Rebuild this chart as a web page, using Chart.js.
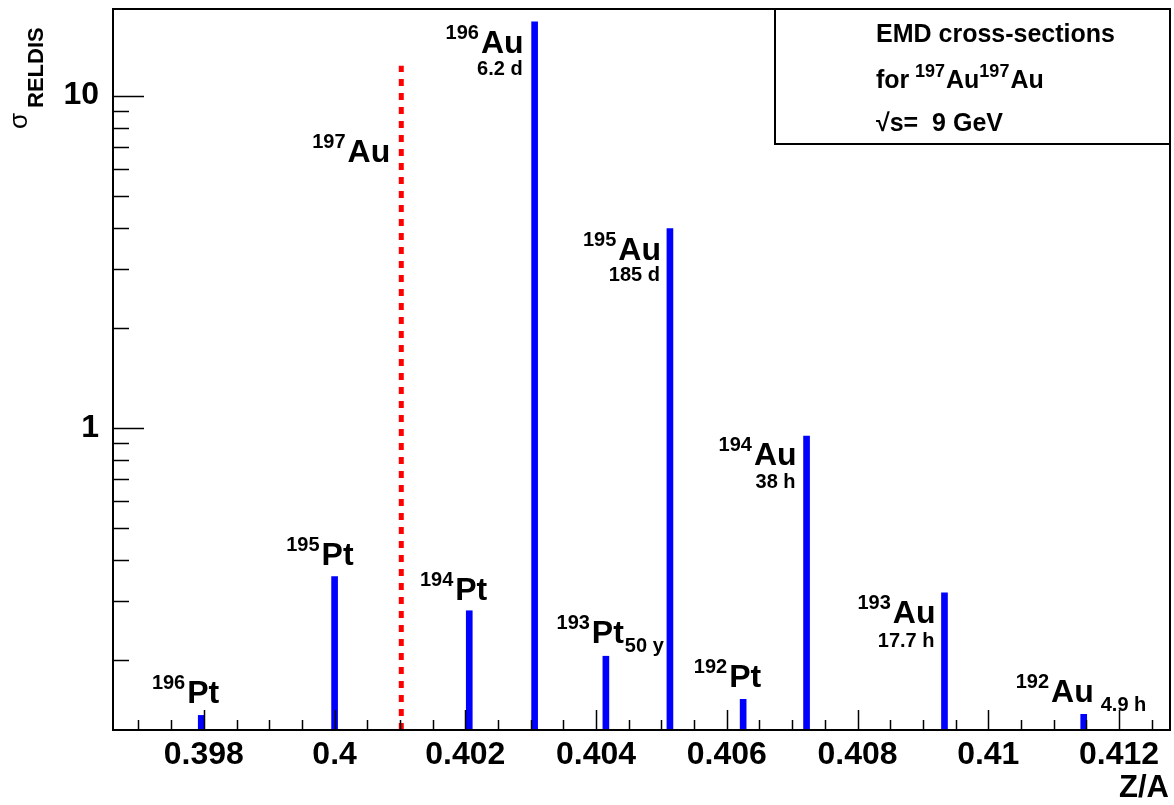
<!DOCTYPE html>
<html>
<head>
<meta charset="utf-8">
<script src="https://cdn.jsdelivr.net/npm/chart.js@4.4.0/dist/chart.umd.min.js"></script>
<style>
  html, body { margin: 0; padding: 0; background: #fff; }
  #wrap { width: 1174px; height: 805px; }
</style>
</head>
<body>
<div id="wrap"><canvas id="plot" width="1174" height="805"></canvas></div>
<script>
// fragments seen after EMD of 197Au+197Au
var massNumbers = ['196', '195', '194', '196', '193', '195', '192', '194', '193', '192'];
var elements    = ['Pt', 'Pt', 'Pt', 'Au', 'Pt', 'Au', 'Pt', 'Au', 'Au', 'Au'];
var halfLives   = ['', '', '', '6.2 d', '50 y', '185 d', '', '38 h', '17.7 h', '4.9 h'];
var zOverA      = [0.39796, 0.40000, 0.40206, 0.40306, 0.40415, 0.40513, 0.40625, 0.40722, 0.40933, 0.41146];
var sigma       = [0.136, 0.356, 0.281, 16.7, 0.205, 3.98, 0.152, 0.944, 0.318, 0.137];

// the beam nucleus itself (red dashed marker)
var beamMass = '197';
var beamElem = 'Au';
var beamZA = 0.40102;
var beamSigma = 12.3;

// axis ranges and tick labels
var X_MIN = 0.39661, X_MAX = 0.41278;
var Y_MIN = 0.1229, Y_MAX = 18.24;
var yTickLabels = {1: '1', 10: '10'};

// label placement, relative to bar top (pixels)
// above: sup+element right edge at x+dx, baseline y+dy
// left: same, half-life under it
var labelPos = [
  {mode: 'above', dx: 18, dy: -12},
  {mode: 'above', dx: 19, dy: -12},
  {mode: 'above', dx: 18, dy: -11},
  {mode: 'left', dx: -11, dy: 31, hy: 53},
  {mode: 'sub', dx: 18, dy: -13},
  {mode: 'left', dx: -9, dy: 31, hy: 52},
  {mode: 'above', dx: 18, dy: -12},
  {mode: 'left', dx: -10, dy: 29, hy: 52},
  {mode: 'left', dx: -9, dy: 30, hy: 54},
  {mode: 'right', dx: 10, dy: -12}
];
var beamLabelPos = {dx: -11, dy: 96};

var FONT = '"Liberation Sans", Arial, sans-serif';

function isStep(v, s) {
  return Math.abs(v / s - Math.round(v / s)) < 1e-6;
}

function drawNuclide(ctx, mass, elem, rightX, baseY) {
  ctx.textAlign = 'left';
  ctx.textBaseline = 'alphabetic';
  ctx.font = 'bold 32px ' + FONT;
  var wEl = ctx.measureText(elem).width;
  ctx.fillText(elem, rightX - wEl, baseY);
  ctx.font = 'bold 20px ' + FONT;
  var wSup = ctx.measureText(mass).width;
  ctx.fillText(mass, rightX - wEl - 2 - wSup, baseY - 14);
}

var overlay = {
  id: 'overlay',
  afterDraw: function(chart) {
    var ctx = chart.ctx;
    var area = chart.chartArea;
    var xs = chart.scales.x, ys = chart.scales.y;
    ctx.save();
    ctx.strokeStyle = '#000';
    ctx.fillStyle = '#000';

    // tick marks pointing into the frame
    ctx.lineWidth = 1.5;
    ctx.beginPath();
    xs.ticks.forEach(function(t) {
      if (!isStep(t.value, 0.0005)) return;
      var len = isStep(t.value, 0.002) ? 20 : 10;
      var px = Math.round(xs.getPixelForValue(t.value)) + 0.5;
      ctx.moveTo(px, area.bottom);
      ctx.lineTo(px, area.bottom - len);
    });
    ys.ticks.forEach(function(t) {
      var v = t.value;
      var dec = Math.pow(10, Math.floor(Math.log10(v) + 1e-9));
      if (!isStep(v / dec, 1)) return;
      var len = Math.round(v / dec) === 1 ? 31 : 16;
      var py = Math.round(ys.getPixelForValue(v)) + 0.5;
      ctx.moveTo(area.left, py);
      ctx.lineTo(area.left + len, py);
    });
    ctx.stroke();

    // frame
    ctx.lineWidth = 2;
    ctx.strokeRect(area.left, area.top, area.right - area.left, area.bottom - area.top);

    // isotope labels
    for (var i = 0; i < zOverA.length; i++) {
      var bx = xs.getPixelForValue(zOverA[i]);
      var by = ys.getPixelForValue(sigma[i]);
      var p = labelPos[i];
      var rx = bx + p.dx, base = by + p.dy;
      drawNuclide(ctx, massNumbers[i], elements[i], rx, base);
      if (!halfLives[i]) continue;
      ctx.font = 'bold 20px ' + FONT;
      if (p.mode === 'left') {
        ctx.textAlign = 'right';
        ctx.fillText(halfLives[i], rx - 1, by + p.hy);
      } else if (p.mode === 'sub') {
        ctx.textAlign = 'left';
        ctx.fillText(halfLives[i], rx + 1, base + 9);
      } else if (p.mode === 'right') {
        ctx.textAlign = 'left';
        ctx.fillText(halfLives[i], rx + 7, base + 9);
      }
    }
    var beamX = xs.getPixelForValue(beamZA);
    var beamY = ys.getPixelForValue(beamSigma);
    drawNuclide(ctx, beamMass, beamElem, beamX + beamLabelPos.dx, beamY + beamLabelPos.dy);

    // info box
    ctx.lineWidth = 2;
    ctx.strokeRect(775, area.top, area.right - 775, 135);
    ctx.textAlign = 'left';
    ctx.font = 'bold 25px ' + FONT;
    ctx.fillText('EMD cross-sections', 876, 42);
    var x = 876;
    ctx.fillText('for', x, 88);
    x = 915;
    [['197', 'Au'], ['197', 'Au']].forEach(function(pair) {
      ctx.font = 'bold 18px ' + FONT;
      ctx.fillText(pair[0], x, 77);
      x += ctx.measureText(pair[0]).width + 1;
      ctx.font = 'bold 25px ' + FONT;
      ctx.fillText(pair[1], x, 88);
      x += ctx.measureText(pair[1]).width;
    });
    ctx.font = 'bold 25px ' + FONT;
    ctx.fillText('\u221As=  9 GeV', 876, 131);

    // axis titles
    ctx.font = 'bold 31px ' + FONT;
    ctx.textAlign = 'right';
    ctx.fillText('Z/A', 1169, 797);

    ctx.translate(27, 129);
    ctx.rotate(-Math.PI / 2);
    ctx.textAlign = 'left';
    ctx.font = '26px ' + FONT;
    ctx.fillText('\u03C3', 0, 0);
    ctx.font = 'bold 22px ' + FONT;
    ctx.fillText('RELDIS', 21, 16);
    ctx.restore();
  }
};

var barPoints = zOverA.map(function(v, i) { return {x: v, y: sigma[i]}; });
var beamPoints = [{x: beamZA, y: Y_MIN}, {x: beamZA, y: beamSigma}];

var chart = new Chart(document.getElementById('plot'), {
  type: 'bar',
  data: {
    datasets: [
      {
        type: 'line',
        data: beamPoints,
        borderColor: '#ff0000',
        borderWidth: 5,
        borderDash: [7, 7],
        pointRadius: 0,
        fill: false,
        tension: 0
      },
      {
        type: 'bar',
        data: barPoints,
        backgroundColor: '#0000ff',
        borderWidth: 0,
        barThickness: 6,
        grouped: false
      }
    ]
  },
  options: {
    responsive: false,
    animation: false,
    devicePixelRatio: 1,
    layout: {padding: {top: 9, right: 4, left: 0, bottom: 0}},
    plugins: {legend: {display: false}, tooltip: {enabled: false}},
    scales: {
      x: {
        type: 'linear',
        min: X_MIN,
        max: X_MAX,
        offset: false,
        grid: {display: false, drawTicks: false},
        border: {display: false},
        ticks: {
          stepSize: 0.0005,
          includeBounds: false,
          autoSkip: false,
          maxRotation: 0,
          minRotation: 0,
          padding: 6,
          color: '#000',
          font: {family: FONT, size: 32, weight: 'bold'},
          callback: function(v) {
            return isStep(v, 0.002) ? String(Number(v.toFixed(3))) : '';
          }
        },
        afterFit: function(s) {
          s.height = 75;
          s.paddingLeft = 0;
          s.paddingRight = 0;
        }
      },
      y: {
        type: 'logarithmic',
        min: Y_MIN,
        max: Y_MAX,
        grid: {display: false, drawTicks: false},
        border: {display: false},
        ticks: {
          autoSkip: false,
          padding: 14,
          color: '#000',
          font: {family: FONT, size: 32, weight: 'bold'},
          callback: function(v) {
            var r = Math.round(v);
            return (Math.abs(v - r) < 1e-9 && yTickLabels[r]) ? yTickLabels[r] : '';
          }
        },
        afterFit: function(s) {
          s.width = 113;
          s.paddingTop = 0;
          s.paddingBottom = 0;
        }
      }
    }
  },
  plugins: [overlay]
});
</script>
</body>
</html>
